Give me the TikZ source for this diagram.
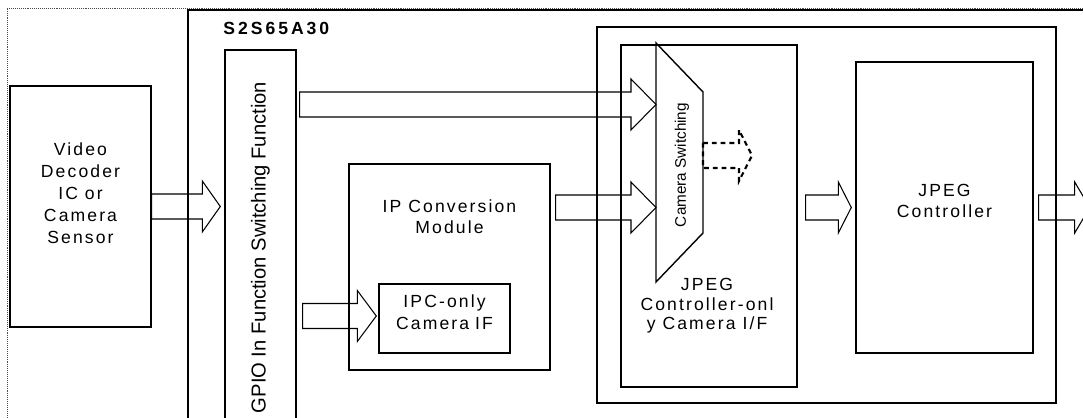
\documentclass[tikz,border=0pt]{standalone}
\usepackage{fontspec}
\setmainfont{Liberation Sans}
\newfontfamily\spaced[LetterSpace=12]{Liberation Sans}
\newfontfamily\wide[LetterSpace=17]{Liberation Sans}
\usetikzlibrary{calc, fit, positioning}
\tikzset{>=latex}

% block arrow: start, tip, head length (all in px units of the picture)
\newcommand{\barrow}[4][]{%
  \draw[blk, #1] ($(#2)+(0,-12.5)$) -- ($(#3)+(-#4,-12.5)$) -- ($(#3)+(-#4,-25.5)$) -- (#3)
    -- ($(#3)+(-#4,25.5)$) -- ($(#3)+(-#4,12.5)$) -- ($(#2)+(0,12.5)$) -- cycle;}

\begin{document}
\begin{tikzpicture}[
    x = 0.02cm, y = -0.02cm,
    box/.style = {draw, line width = 0.8pt, inner sep = 0pt},
    blk/.style = {draw, line width = 0.6pt, line join = miter},
    dsh/.style = {line width = 1.2pt, dash pattern = on 2.8pt off 2.2pt},
    frame/.style = {draw = black!70, line width = 0.4pt, dash pattern = on 0.5pt off 0.6pt},
    txt/.style = {font = \spaced\fontsize{10}{12}\selectfont, align = center, inner sep = 0pt},
]
\path[use as bounding box, clip] (0,0) rectangle (1083,418);

\draw[frame] (7,460) |- (1120,8);
\node[box, fit = {(188,10) (1120,460)}] (chip) {};
\node[txt, font = \wide\bfseries\fontsize{10}{12}\selectfont, anchor = base west] (chipname) at (223,35) {S2S65A30};

% input device and GPIO block
\node[box, fit = {(10,86) (151,327)}] (video) {};
\node[txt, font = \spaced\fontsize{10}{12.5}\selectfont] (videotxt) at ($(video.center)+(0,-13.5)$) {Video\\Decoder\\IC or\\Camera\\Sensor};
\node[box, fit = {(225,50) (296,445)}] (gpio) {};
\node[rotate = 90, font = \fontsize{11.5}{13}\selectfont, inner sep = 0pt] (gpiotxt) at (gpio.center) {GPIO In Function Switching Function};

% IP conversion
\node[box, fit = {(349,164) (550,370)}] (ipmod) {};
\node[txt] (iptxt) at (449.5,217) {IP Conversion\\Module};
\node[box, fit = {(379,284) (510,353)}, txt, font = \spaced\fontsize{10}{12.5}\selectfont] (ipc) {IPC-only\\Camera IF};

% JPEG side
\node[box, fit = {(597,27) (1056,403)}] (jpegblk) {};
\node[box, fit = {(621,45) (797,387)}] (jif) {};
\node[txt, font = \spaced\fontsize{10}{11}\selectfont] (jiftxt) at (707,306) {JPEG\\Controller-onl\\y Camera I/F};
\node[box, fit = {(856,62) (1033,353)}, txt] (jctrl) {JPEG\\Controller\\[10pt]};

% camera switching mux
\draw[box] (656,43) -- (703,92) -- (703,233) -- (656,282) -- cycle;
\node[rotate = 90, font = \fontsize{8.7}{10}\selectfont, inner sep = 0pt] (mux) at (682,165) {Camera Switching};
\coordinate (muxa) at (656,104.5);
\coordinate (muxb) at (656,207.5);
\coordinate (muxo) at (703,155.5);

% arrows
\coordinate (a1s) at (video.east);
\coordinate (a1t) at ($(gpio.west |- video.east)+(-4,0)$);
\barrow{a1s}{a1t}{18}
\coordinate (a2s) at ($(gpio.east |- muxa)+(3,0)$);
\barrow{a2s}{muxa}{25}
\coordinate (a3s) at ($(ipmod.east |- muxb)+(5,0)$);
\barrow{a3s}{muxb}{25}
\coordinate (a4t) at ($(ipc.west)+(-2,-2.5)$);
\coordinate (a4s) at ($(gpio.east |- a4t)+(6,0)$);
\barrow{a4s}{a4t}{19}
\coordinate (a5s) at ($(jif.east |- jctrl.west)+(8,0)$);
\coordinate (a5t) at ($(jctrl.west)+(-4,0)$);
\barrow{a5s}{a5t}{13}
\coordinate (a6s) at ($(jctrl.east)+(5,0)$);
\coordinate (a6t) at ($(jctrl.east)+(56,0)$);
\barrow{a6s}{a6t}{15}
\coordinate (a7t) at ($(muxo)+(49,0)$);
\barrow[dsh]{muxo}{a7t}{13}
\end{tikzpicture}
\end{document}
